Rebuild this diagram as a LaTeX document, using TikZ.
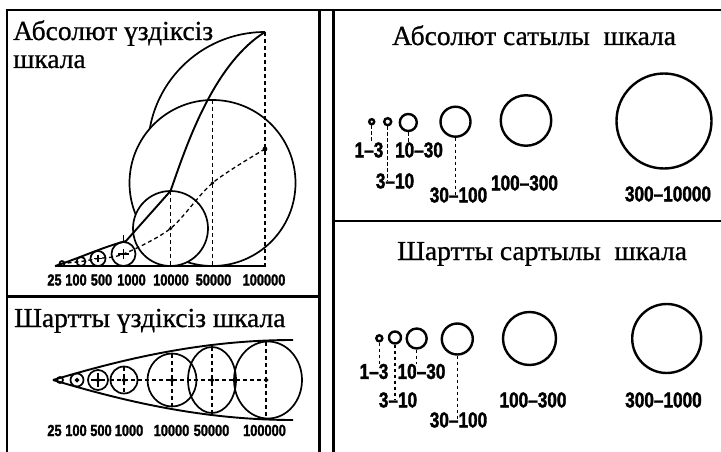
\documentclass[tikz,border=0pt]{standalone}
\usepackage{fontspec}
\setmainfont{Liberation Serif}[FakeBold=0.8]
\newfontfamily\labfont[FakeStretch=0.8,FakeBold=1.6]{Liberation Sans Bold}
\begin{document}
\begin{tikzpicture}[x=1pt,y=-1pt,
  framel/.style={line width=2.7pt},
  ttl/.style={font=\fontsize{27.5}{30}\selectfont, inner sep=0pt, anchor=base west},
  lab/.style={font=\labfont\fontsize{16}{16}\selectfont, inner sep=0pt},
  rlab/.style={font=\labfont\fontsize{21.5}{21.5}\selectfont, inner sep=0pt},
  circ/.style={line width=1.7pt},
  solidl/.style={line width=1.9pt},
  dsh/.style={line width=1.3pt, dash pattern=on 4pt off 3pt},
  ring/.style={circle, draw, line width=2.4pt, inner sep=0pt, minimum size=#1},
  leader/.style={line width=1.5pt, dash pattern=on 3.5pt off 2.5pt},
]
\useasboundingbox (0,0) rectangle (721,452);
% frame
\draw[framel] (7,452) -- (7,10) -- (721,10);
\draw[framel] (319.5,10) -- (319.5,452);
\draw[framel] (333.5,10) -- (333.5,452);
\draw[framel] (7,296.5) -- (319.5,296.5);
\draw[framel] (333.5,221) -- (721,221);
% titles
\node[ttl] (t1a) at (13,40) {Абсолют үздіксіз};
\node[ttl] (t1b) at (13,68) {шкала};
\node[ttl] (t2) at (14,327) {Шартты үздіксіз шкала};
\node[ttl] (t3) at (392,45) {Абсолют сатылы\ \ шкала};
\node[ttl] (t4) at (397,260) {Шартты сартылы\ \ шкала};
% ---------- left top: absolute continuous scale
\begin{scope}
  \clip (100,0) rectangle (265,149);
  \draw[circ] (265,149) circle[radius=117pt];
\end{scope}
\draw[circ, fill=white] (212.5,183) circle[radius=83pt];
\draw[circ, fill=white] (170.5,228.5) circle[radius=37.5pt];
\draw[circ, fill=white] (123.5,254) circle[radius=12pt];
\draw[circ, fill=white] (98,258.5) circle[radius=7.5pt];
\draw[circ] (81,261.5) circle[radius=4.5pt];
\draw[circ] (62,263.5) circle[radius=2.5pt];
\draw[solidl] (55,266) .. controls (80,258) and (100,248) .. (126,241) -- (170.5,191) .. controls (185,150) and (212,65) .. (265,32);
\draw[line width=2.2pt] (55,266) -- (266,266);
\draw[dsh] (265,32) -- (265,266);
\draw[dsh] (212.5,100) -- (212.5,266);
\draw[dsh] (170.5,191) -- (170.5,266);
\draw[dsh] plot[smooth] coordinates {(265,149) (212.5,183) (170.5,228.5) (123.5,254) (98,258.5) (81,261.5) (62,263.5)};
\fill (265,149) circle[radius=2.4pt];
\fill (212.5,183) circle[radius=1.8pt];
\fill (170.5,228.5) circle[radius=1.8pt];
\draw[line width=1.2pt] (123.5,235) -- (123.5,243);
\draw[line width=1.2pt] (123.5,249) -- (123.5,259) (118,254) -- (129,254);
\draw[line width=1.2pt] (98,255) -- (98,262) (94,258.5) -- (102,258.5);
% labels left top
\node[lab] (p25) at (54.5,280) {25};
\node[lab] (p100) at (76,280) {100};
\node[lab] (p500) at (101.5,280) {500};
\node[lab] (p1000) at (131.5,280) {1000};
\node[lab] (p10000) at (171,280) {10000};
\node[lab] (p50000) at (213.5,280) {50000};
\node[lab] (p100000) at (264,280) {100000};
% ---------- left bottom: conditional continuous scale
\draw[solidl] (53,380) .. controls (120,360) and (200,340) .. (293,340);
\draw[solidl] (53,380) .. controls (120,400) and (200,420) .. (293,420);
\draw[circ] (60,380) circle[radius=3pt];
\draw[circ] (77,380) circle[radius=6.5pt];
\draw[circ] (98,380) circle[radius=10pt];
\draw[circ] (124,380) circle[radius=13.5pt];
\draw[circ] (172,380) ellipse[x radius=24.5pt, y radius=26.5pt];
\draw[circ] (212,380) ellipse[x radius=24pt, y radius=33pt];
\draw[circ] (268,380) ellipse[x radius=34pt, y radius=38.5pt];
\draw[dsh] (110,380) -- (266,380);
\draw[dsh] (124,367) -- (124,393);
\draw[dsh] (172,354) -- (172,406);
\draw[dsh] (212,347) -- (212,413);
\draw[dsh] (266,342) -- (266,418);
\draw[line width=1.2pt] (98,373) -- (98,387) (91,380) -- (105,380);
\foreach \cx in {77,98,124,172,212,266}
  \fill (\cx,377.5) -- (\cx+2.5,380) -- (\cx,382.5) -- (\cx-2.5,380) -- cycle;
\node[lab] (q25) at (54.5,430.5) {25};
\node[lab] (q100) at (76,430.5) {100};
\node[lab] (q500) at (101,430.5) {500};
\node[lab] (q1000) at (129,430.5) {1000};
\node[lab] (q10000) at (171.5,430.5) {10000};
\node[lab] (q50000) at (211.5,430.5) {50000};
\node[lab] (q100000) at (264.5,430.5) {100000};
% ---------- right top: absolute stepped scale
\node[ring=5pt] (a1) at (371.7,121.7) {};
\node[ring=7pt] (a2) at (387.7,121.7) {};
\node[ring=17pt] (a3) at (408.3,122.5) {};
\node[ring=30pt] (a4) at (455.5,121.7) {};
\node[ring=50.5pt] (a5) at (526,120.5) {};
\node[ring=95pt] (a6) at (664,121) {};
\node[rlab] (la1) at (369,150) {1–3};
\node[rlab] (la3) at (419,150) {10–30};
\node[rlab] (la2) at (395,181) {3–10};
\node[rlab] (la4) at (458.5,195) {30–100};
\node[rlab] (la5) at (524.5,183) {100–300};
\node[rlab] (la6) at (668,194) {300–10000};
\draw[leader] (a1.south) -- (a1.south |- la1.north);
\draw[leader] (a2.south) -- (a2.south |- la2.center);
\draw[leader] (a3.south) -- (a3.south |- la3.north);
\draw[leader] (a4.south) -- (a4.south |- la4.center);
% ---------- right bottom: conditional stepped scale
\node[ring=6pt] (b1) at (379.3,338.3) {};
\node[ring=12pt] (b2) at (395,337.5) {};
\node[ring=20pt] (b3) at (416.7,338.5) {};
\node[ring=31pt] (b4) at (457.3,339) {};
\node[ring=53pt] (b5) at (529.5,338.5) {};
\node[ring=69pt] (b6) at (666.7,338.5) {};
\node[rlab] (lb1) at (374,371.5) {1–3};
\node[rlab] (lb3) at (421.5,371.5) {10–30};
\node[rlab] (lb2) at (398,400) {3–10};
\node[rlab] (lb4) at (458.5,420) {30–100};
\node[rlab] (lb5) at (533,400) {100–300};
\node[rlab] (lb6) at (663.5,400) {300–1000};
\draw[leader] (b1.south) -- (b1.south |- lb1.north);
\draw[leader] (b2.south) -- (b2.south |- lb2.center);
\draw[leader] (b3.south) -- (b3.south |- lb3.north);
\draw[leader] (b4.south) -- (b4.south |- lb4.center);
\end{tikzpicture}
\end{document}
